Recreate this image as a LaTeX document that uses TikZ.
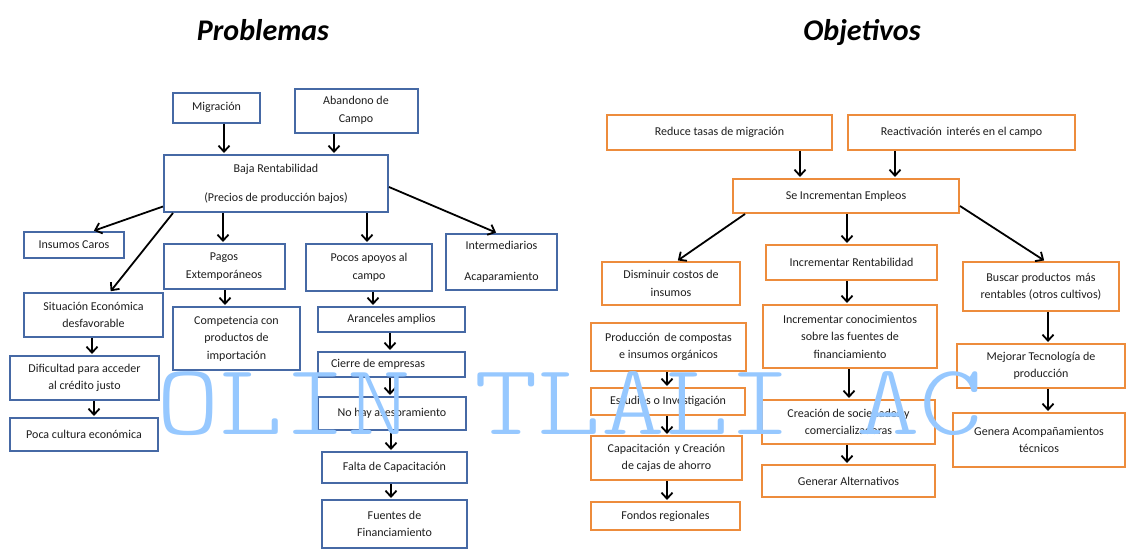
\documentclass[tikz,border=0pt]{standalone}
\usepackage{fontspec}
\setmainfont{Carlito}
\newfontfamily\wmfont{lmmonolt10-regular}[Extension=.otf]
\usetikzlibrary{arrows.meta,calc}
\definecolor{bblue}{RGB}{70,105,165}
\definecolor{borange}{RGB}{237,140,60}
\definecolor{wmcol}{RGB}{150,200,255}
\definecolor{txt}{RGB}{30,30,30}
\newcommand\varr[3]{\draw[arr] (#1.south -| #3,0) -- (#2.north -| #3,0);}
\begin{document}
\begin{tikzpicture}[x=1pt,y=-1pt,
  pb/.style 2 args={draw=bblue,line width=2pt,fill=white,minimum width=#1,minimum height=#2,inner sep=0pt,align=center,text=txt,font=\fontsize{12}{17.5}\selectfont},
  ob/.style 2 args={pb={#1}{#2},draw=borange},
  arr/.style={line width=1.8pt,shorten >=1pt,-{Straight Barb[length=6pt,width=11pt]}},
  ttl/.style={font=\fontsize{30}{36}\selectfont\bfseries\itshape,inner sep=0pt}
]
\useasboundingbox (0,0) rectangle (1126,549);
\fill[white] (0,0) rectangle (1126,549);

% titles
\node[ttl,anchor=base] (tprob) at (263,40) {Problemas};
\node[ttl,anchor=base] (tobj) at (862,40) {Objetivos};

% ---------------- Problemas ----------------
\node[pb={87}{30}] (mig) at (216.5,107.5) {Migración};
\node[pb={123}{44}] (aband) at (356,110.5) {Abandono de\\Campo};
\node[pb={224}{57}] (baja) at (276,183.5) {Baja Rentabilidad\\[11.5pt](Precios de producción bajos)};
\node[pb={100}{26}] (insumos) at (74,245) {Insumos Caros};
\node[pb={121}{45}] (pagos) at (224,266.5) {Pagos\\Extemporáneos};
\node[pb={126}{47}] (pocos) at (369,267.5) {Pocos apoyos al\\campo};
\node[pb={111}{56}] (interm) at (501.5,262) {Intermediarios\\[13.5pt]Acaparamiento};
\node[pb={139}{44}] (situ) at (93.5,315) {Situación Económica\\desfavorable};
\node[pb={127}{63}] (compet) at (236.5,338.5) {Competencia con\\productos de\\importación};
\node[pb={147}{25}] (aranc) at (391.5,319.5) {Aranceles amplios};
\node[pb={147}{25}] (cierre) at (391.5,364.5) {Cierre de empresas\hspace*{27pt}};
\node[pb={148}{33}] (nohay) at (392,413.5) {No hay asesoramiento};
\node[pb={145}{31}] (falta) at (394.5,467.5) {Falta de Capacitación};
\node[pb={145}{48}] (fuentes) at (394.5,524) {Fuentes de\\Financiamiento};
\node[pb={149}{44}] (dific) at (84.5,378) {Dificultad para acceder\\al crédito justo};
\node[pb={148}{33}] (poca) at (84,434.5) {Poca cultura económica};

\varr{mig}{baja}{224}
\varr{aband}{baja}{334}
\varr{baja}{pagos}{223}
\varr{baja}{pocos}{367}
\varr{pagos}{compet}{225}
\varr{situ}{dific}{92}
\varr{dific}{poca}{94}
\varr{pocos}{aranc}{373}
\varr{aranc}{cierre}{390}
\varr{cierre}{nohay}{390}
\varr{nohay}{falta}{391}
\varr{falta}{fuentes}{391}
\draw[arr] ([yshift=-23pt]baja.west) -- ([xshift=19pt]insumos.north);
\draw[arr] ([xshift=-103pt]baja.south) -- ([xshift=16.5pt]situ.north);
\draw[arr] ([yshift=-3.5pt]baja.east) -- ([xshift=-4.5pt]interm.north);

% ---------------- Objetivos ----------------
\node[ob={225}{35}] (reduce) at (719.5,132.5) {Reduce tasas de migración};
\node[ob={227}{35}] (react) at (961.5,132.5) {Reactivación\, interés en el campo};
\node[ob={226}{34}] (se) at (846,196) {Se Incrementan Empleos};
\node[ob={138}{43}] (dism) at (671,283.5) {Disminuir costos de\\insumos};
\node[ob={171}{35}] (incr) at (851.5,262.5) {Incrementar Rentabilidad};
\node[ob={156}{49}] (busc) at (1041,286.5) {Buscar productos\, más\\rentables (otros cultivos)};
\node[ob={168}{44}] (mejor) at (1041,366) {Mejorar Tecnología de\\producción};
\node[ob={172}{54}] (genera) at (1039,440) {Genera Acompañamientos\\técnicos};
\node[ob={155}{48}] (prod) at (668.5,347) {Producción\, de compostas\\e insumos orgánicos};
\node[ob={154}{27}] (estud) at (668,401.5) {Estudios o Investigación};
\node[ob={151}{44}] (capac) at (666.5,458) {Capacitación\, y Creación\\de cajas de ahorro};
\node[ob={149}{28}] (fondos) at (665.5,516) {Fondos regionales};
\node[ob={174}{63}] (conoc) at (850,336.5) {Incrementar conocimientos\\sobre las fuentes de\\financiamiento};
\node[ob={173}{44}] (creac) at (848.5,422) {Creación de sociedades y\\comercializadoras};
\node[ob={173}{32}] (gener) at (848.5,481) {Generar Alternativos};

\varr{reduce}{se}{800}
\varr{react}{se}{895}
\varr{se}{incr}{847}
\varr{incr}{conoc}{847}
\varr{conoc}{creac}{849}
\varr{creac}{gener}{847}
\varr{busc}{mejor}{1048}
\varr{mejor}{genera}{1048}
\varr{prod}{estud}{667}
\varr{estud}{capac}{667}
\varr{capac}{fondos}{667}
\draw[arr] ([xshift=-101pt]se.south) -- ([xshift=6pt]dism.north);
\draw[arr] ([yshift=-10pt]se.east) -- ([xshift=4pt]busc.north);

% watermark
\node[anchor=base west,inner sep=0pt,text=wmcol,font=\wmfont\fontsize{101}{110}\selectfont] (wm) at (156,434) {\scalebox{1.2}[1]{OLIN TLALI AC}};
\end{tikzpicture}
\end{document}
